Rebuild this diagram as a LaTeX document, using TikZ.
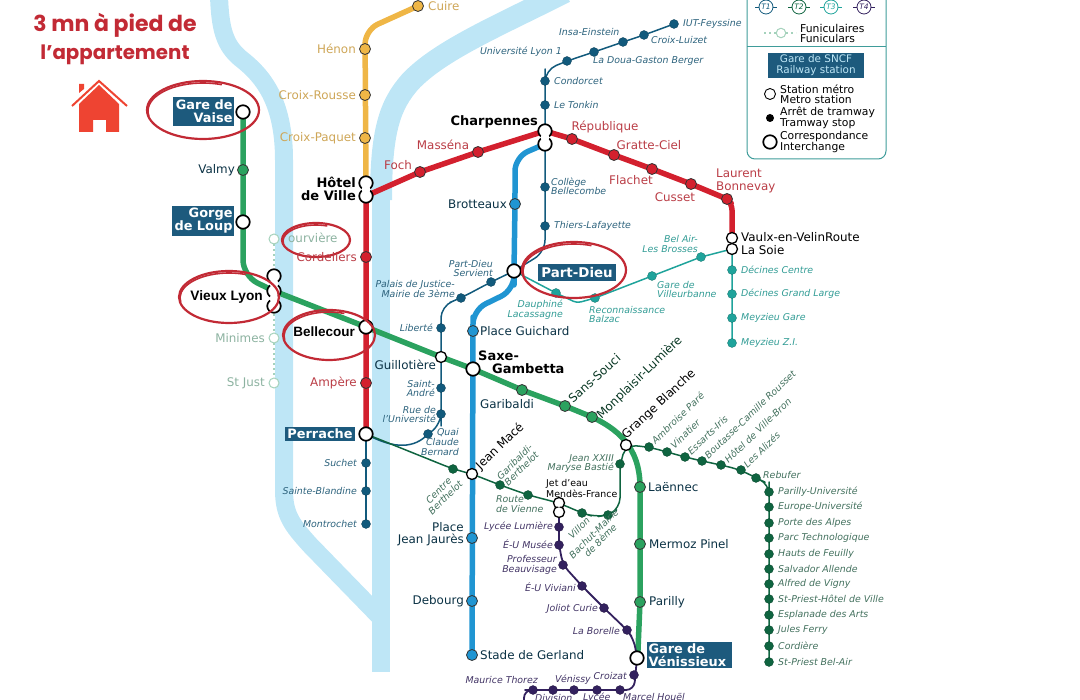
\documentclass[tikz,border=0pt]{standalone}
\usepackage{fontspec}
\setmainfont{DejaVu Sans}
\newfontfamily\headfont{Poppins}
\newfontfamily\arialfont{Liberation Sans}
\usetikzlibrary{backgrounds}

\definecolor{riverblue}{HTML}{BEE6F6}
\definecolor{lineA}{HTML}{D3202E}
\definecolor{lineB}{HTML}{2095D2}
\definecolor{lineC}{HTML}{EFB646}
\definecolor{lineD}{HTML}{2BA25F}
\definecolor{tramA}{HTML}{125A7C}
\definecolor{tramB}{HTML}{0F6440}
\definecolor{tramC}{HTML}{1FA39B}
\definecolor{tramD}{HTML}{33215E}
\definecolor{funi}{HTML}{A5D2BC}
\definecolor{circlered}{HTML}{C22A35}
\definecolor{houseorange}{HTML}{EE4432}
\definecolor{boxblue}{HTML}{1D5A7D}
\definecolor{legendteal}{HTML}{3F9C9A}

\begin{document}
\begin{tikzpicture}[
x=1pt, y=-1pt,
river/.style={draw=riverblue, line width=18pt, line join=round},
metroline/.style={line width=5.5pt, line join=round},
tramline/.style={line width=1.5pt, line join=round},
stop/.style={circle, inner sep=0pt, minimum size=9pt, draw=#1!70!black, fill=#1, line width=.3pt},
metro/.style={circle, inner sep=0pt, minimum size=11pt, draw=black!80, fill=#1, line width=.8pt},
hub/.style={circle, inner sep=0pt, minimum size=13.5pt, draw=black, fill=white, line width=1.7pt},
minihub/.style={circle, inner sep=0pt, minimum size=11pt, draw=black, fill=white, line width=1.3pt},
hubfill/.style={circle, inner sep=0pt, minimum size=9pt, fill=white},
funistop/.style={circle, inner sep=0pt, minimum size=10pt, draw=funi, fill=white, line width=1pt},
funiline/.style={funi, line width=2pt, dash pattern=on 2pt off 3pt},
lab/.style={inner sep=0pt, font=\fontsize{11.9}{12.2}\selectfont, text=#1},
lab/.default=black,
lbl/.style={lab=#1, anchor=east, align=right},
lbr/.style={lab=#1, anchor=west, align=left},
tlab/.style={inner sep=0pt, font=\fontsize{9.4}{9.6}\selectfont\itshape, text=#1},
tl/.style={tlab=#1, anchor=east, align=right},
tr/.style={tlab=#1, anchor=west, align=left},
bigname/.style={inner sep=0pt, font=\fontsize{13}{13.5}\selectfont\bfseries, text=black},
railbox/.style={fill=boxblue, text=white, inner sep=0pt, align=right, font=\fontsize{12.9}{13}\selectfont\bfseries},
scribble/.style={draw=circlered, line width=2.2pt},
legtext/.style={inner sep=0pt, anchor=west, align=left, font=\fontsize{10.8}{10}\selectfont}
]
\useasboundingbox (0,0) rectangle (1080,700);

%Nodes
\foreach \n/\x/\y in {hv/243/112, gl/243/222, bc/366/327, pr/366/434, pd/514/271, sg/473/369, gv/637/658}
    \node[hub] (\n) at (\x,\y) {};
\foreach \n/\x/\y in {gt/441/357, jm/472/474, gb/626/445}
    \node[minihub] (\n) at (\x,\y) {};
% twin interchanges
\foreach \n/\x/\y in {hvA/366/183, hvB/366/196, chA/545/131, chB/545/144, vlA/274/276, vlB/274/291, vlC/274/306}
    \node[hub] (\n) at (\x,\y) {};
\foreach \n/\x/\y in {vsA/732/238, vsB/732/249, jeA/559/503, jeB/559/512}
    \node[minihub] (\n) at (\x,\y) {};
\foreach \n/\x/\y in {fhvA/366/183, fhvB/366/196, fhvC/366/189.5, fchA/545/131, fchB/545/144, fchC/545/137.5, fvlA/274/276, fvlB/274/291, fvlC/274/306, fvlD/274/283.5, fvlE/274/298.5}
    \node[hubfill] (\n) at (\x,\y) {};
\foreach \n/\x/\y in {fvsA/732/238, fvsB/732/249, fjeA/559/503, fjeB/559/512}
    \node[hubfill, minimum size=8pt] (\n) at (\x,\y) {};

% metro stops
\foreach \n/\x/\y in {va/243/170, gi/522/390, ss/565/406, ml/592/417, la/640/487, mp/640/544, pa/640/602}
    \node[metro=lineD] (\n) at (\x,\y) {};
\foreach \n/\x/\y in {cd/366/257, am/366/383, fo/420/172, ms/478/152, re/572/139, gc/614/155, fl/652/169, cu/691/184, lb/727/199}
    \node[metro=lineA] (\n) at (\x,\y) {};
\foreach \n/\x/\y in {cui/418/6, he/365/49, cr/365/95, cp/365/138}
    \node[metro=lineC] (\n) at (\x,\y) {};
\foreach \n/\x/\y in {br/515/204, pg/473/331, jj/472/538, de/472/601, sdg/472/655}
    \node[metro=lineB] (\n) at (\x,\y) {};

% tram stops
\foreach \n/\x/\y in {iu/674/24, cl/644/35, ie/623/42, dg/594/52, ul/567/61, co/545/81, to/545/105, cb/545/187, tl/545/226, pds/491/282, pj/461/298, li/441/328, sa/441/388, ru/441/414, qc/428/434, su/366/463, sb/366/491, mo/366/524}
    \node[stop=tramA] (\n) at (\x,\y) {};
\foreach \n/\x/\y in {ce/453/469, gab/500/485, rv/528/495, vi/582/513, bm/608/515, jx/620/464, ap/649/447, vn/667/452, ei/685/457, bo/702/461, hb/721/465, az/741/470, rb/756/478, pu/769/492, eu/769/507, al/769/523, pt/769/538, hf/769/554, sl/769/569, ad/769/584, sh/769/599, ea/769/615, jf/769/630, cq/769/646, sp/769/662}
    \node[stop=tramB] (\n) at (\x,\y) {};
\foreach \n/\x/\y in {dl/556/293, rz/595/298, vb/652/276, bb/701/257, dc/732/270, dg2/732/294, mg/732/318, mz/732/343}
    \node[stop=tramC] (\n) at (\x,\y) {};
\foreach \n/\x/\y in {ll/559/527, em/559/545, bv/563/565, ev/582/586, jc/604/608, lo/627/630, cz/634/675, mh/620/690, ly/597/690, dv/574/690, vy/553/690, mt/533/690}
    \node[stop=tramD] (\n) at (\x,\y) {};

% funiculars
\foreach \n/\x/\y in {fv/274/239, mi/274/338, sj/274/383}
    \node[funistop] (\n) at (\x,\y) {};

%Lines
\begin{scope}[on background layer]
    \draw[river] (219,-5) .. controls (220,30) and (225,45) .. (240,58) .. controls (262,75) and (284,100) .. (284,160) -- (284,490) .. controls (284,515) and (292,525) .. (310,545) -- (381,618);
    \draw[river, line width=22pt] (565,-8) .. controls (500,25) and (440,50) .. (410,82) .. controls (390,105) and (381,130) .. (381,200);
    \draw[river] (381,190) -- (381,672);

    \draw[metroline, lineC, rounded corners=14pt] (cui.center) -- (365,30) -- (hvA.center);
    \draw[metroline, lineB, rounded corners=14pt] (chB.center) -- (515,157) -- (br.center) -- (pd.center) -- (514,290) -- (473,310) -- (pg.center) -- (sdg.center);
    \draw[metroline, lineA, rounded corners=6pt] (pr.center) -- (hvB.center) -- (fo.center) -- (ms.center) -- (chA.center) -- (re.center) -- (gc.center) -- (fl.center) -- (cu.center) -- (lb.center) -- (732,204) -- (vsA.center);
    \draw[metroline, lineD, rounded corners=16pt] (hv.center) -- (gl.center) -- (243,276) -- (vlB.center);
    \draw[metroline, lineD] (vlB.center) -- (bc.center) -- (gt.center) -- (sg.center) -- (gi.center) -- (ss.center) -- (ml.center) .. controls (615,428) and (640,445) .. (640,487) -- (pa.center) -- (638,650) -- (gv.center);

    \draw[tramline, tramA, rounded corners=12pt] (iu.center) -- (cl.center) -- (ie.center) -- (dg.center) -- (ul.center) -- (545,70) -- (co.center) -- (chA.center) -- (chB.center) -- (tl.center) -- (545,252) -- (pd.center);
    \draw[tramline, tramA, rounded corners=12pt] (pd.center) -- (pds.center) -- (pj.center) -- (441,306) -- (li.center) -- (ru.center) -- (441,425) -- (qc.center);
    \draw[tramline, tramA] (qc.center) .. controls (415,448) and (395,450) .. (pr.center);
    \draw[tramline, tramA] (pr.center) -- (mo.center);
    \draw[tramline, tramB, rounded corners=10pt] (pr.center) -- (ce.center) -- (jm.center) -- (gab.center) -- (rv.center) -- (jeA.center) -- (vi.center) -- (595,517) -- (bm.center) -- (620,508) -- (jx.center) -- (gb.center) -- (ap.center) -- (vn.center) -- (ei.center) -- (bo.center) -- (hb.center) -- (az.center) -- (rb.center) -- (769,484) -- (pu.center) -- (sp.center);
    \draw[tramline, tramC, rounded corners=4pt] (pd.center) -- (dl.center) -- (577,303) -- (rz.center) -- (vb.center) -- (bb.center) -- (vsB.center) -- (mz.center);
    \draw[tramline, tramD, line width=1.8pt, rounded corners=8pt] (jeB.center) -- (em.center) -- (bv.center) -- (ev.center) -- (jc.center) -- (lo.center) -- (634,640) -- (gv.center);
    \draw[tramline, tramD, line width=1.8pt, rounded corners=8pt] (gv.center) -- (634,690) -- (mt.center) -- (524,690) -- (524,705);
    \draw[funiline] (fv) -- (vlA);
    \draw[funiline] (vlC) -- (mi);
    \draw[funiline] (mi) -- (sj);
\end{scope}

% red hand drawn rings, doubled at their start on the upper left
\foreach \cx/\cy/\rx/\ry in {203/110/56/29, 229/297/50/26, 329/335/46/25, 574/270/52/28, 316/240/34/17}{
    \draw[scribble] (\cx,\cy) ellipse [x radius=\rx, y radius=\ry];
    \draw[scribble, line width=1.6pt] (\cx,\cy+1) ++(170:\rx-1 and \ry-1) arc [start angle=170, end angle=290, x radius=\rx-1, y radius=\ry-1];
}

% heading and house
\node[inner sep=0pt, text=circlered, font=\fontsize{22}{22}\headfont\bfseries] (headA) at (115,25) {3 mn à pied de};
\node[inner sep=0pt, text=circlered, font=\fontsize{19.8}{20}\headfont\bfseries] (headB) at (115,54.5) {l’appartement};
\fill[houseorange] (79,104) -- (99,85) -- (119,104) -- (119,132) -- (106,132) -- (106,120) -- (93,120) -- (93,132) -- (79,132) -- cycle;
\draw[houseorange, line width=2pt] (72,106) -- (99,81) -- (127,106);
\fill[houseorange] (79,84) -- (84,84) -- (84,89) -- (79,93) -- cycle;

% black and boxed names
\node[railbox, minimum width=61pt, minimum height=29pt, text width=58pt] (boxVaise) at (203.5,111.5) {Gare de\\Vaise};
\node[railbox, minimum width=62pt, minimum height=30pt, text width=59pt] (boxLoup) at (203,221) {Gorge\\de Loup};
\node[railbox, minimum width=70pt, minimum height=14pt] (boxPerrache) at (320,434) {Perrache};
\node[railbox, minimum width=78pt, minimum height=17pt, font=\fontsize{13.4}{14}\selectfont\bfseries] (boxDieu) at (577,272.5) {Part-Dieu};
\node[railbox, minimum width=85pt, minimum height=26pt, align=left, text width=82pt] (boxVenis) at (689.5,655) {Gare de\\Vénissieux};
\node[bigname, anchor=east, align=right] (nameHotel) at (356,189) {Hôtel\\de Ville};
\node[bigname, anchor=east] (nameCharp) at (538,122) {Charpennes};
\node[bigname, anchor=west, align=left] (nameSaxe) at (478,362.5) {Saxe-\\\hspace*{14pt}Gambetta};
\node[inner sep=0pt, anchor=east, font=\fontsize{13.7}{14}\arialfont\bfseries] (nameVieux) at (263,297) {Vieux Lyon};
\node[inner sep=0pt, anchor=east, font=\fontsize{13.5}{14}\arialfont\bfseries] (nameBelle) at (355,332) {Bellecour};
\node[lab, anchor=west, align=left] (nameVaulx) at (741,243.5) {Vaulx-en-VelinRoute\\La Soie};
\node[lab, anchor=west, rotate=43] (nameGrange) at (624,437) {Grange Blanche};
\node[lab, anchor=west, rotate=44] (nameMace) at (478,468) {Jean Macé};
\node[tlab=black, anchor=west, align=left, font=\fontsize{9.4}{11}\selectfont] (nameJet) at (546,488.5) {Jet d'eau\\Mendès-France};

% metro labels
\foreach \n/\x/\y/\txt in {Val/235/170/Valmy, Bro/507/204/Brotteaux, Gui/436/365/Guillotière, Jau/464/534/{Place\\Jean Jaurès}, Deb/464/601/Debourg}
    \node[lbl=black!45!tramA] (lab\n) at (\x,\y) {\txt};
\foreach \n/\x/\y/\txt in {Gch/480/331/Place Guichard, Ger/480/655/Stade de Gerland, Lae/648/487/Laënnec, Mer/649/544/Mermoz Pinel, Par/649/602/Parilly, Gar/480/404/Garibaldi}
    \node[lbr=black!45!tramA] (lab\n) at (\x,\y) {\txt};
\foreach \n/\x/\y/\ang/\txt in {Sou/570/400/42/Sans-Souci, Mon/599/417/44/Monplaisir-Lumière}
    \node[lab=black!45!tramB, anchor=west, rotate=\ang] (lab\n) at (\x,\y) {\txt};
\foreach \n/\x/\y/\txt in {Hen/356/49/Hénon, Rou/356/95/Croix-Rousse, Paq/356/138/Croix-Paquet}
    \node[lbl=lineC!70!gray] (lab\n) at (\x,\y) {\txt};
\node[lbr=lineC!70!gray] (labCui) at (428,6) {Cuire};
\foreach \n/\x/\y/\txt in {Foc/398/165/Foch, Mas/443/145/Masséna, Rep/605/127/République, Gra/649/145/Gratte-Ciel, Fla/631/180/Flachet, Cus/675/197/Cusset}
    \node[lab=lineA!70!gray] (lab\n) at (\x,\y) {\txt};
\node[lbr=lineA!70!gray] (labLau) at (716,181) {Laurent\\Bonnevay};
\foreach \n/\x/\y/\txt in {Cor/357/257/Cordeliers, Amp/357/383/Ampère}
    \node[lbl=lineA!70!gray] (lab\n) at (\x,\y) {\txt};

% funicular labels
\node[lbr=funi!85!black] (labFou) at (288,238) {ourvière};
\foreach \n/\x/\y/\txt in {Min/265/338/Minimes, Jus/265/383/St Just}
    \node[lbl=funi!85!black] (lab\n) at (\x,\y) {\txt};

% tram A labels
\foreach \n/\x/\y/\txt in {Uni/562/52/Université Lyon 1, Ser/493/268.5/{Part-Dieu\\Servient}, Pal/455/289/{Palais de Justice-\\Mairie de 3ème}, Lib/433/328/Liberté, And/435/388.5/{Saint-\\André}, Rue/436/414.5/{Rue de\\l'Université}, Qua/459/442/{Quai\\Claude\\Bernard}, Suc/357/463/Suchet, Bla/357/491/Sainte-Blandine, Mot/357/524/Montrochet}
    \node[tl=tramA!75!gray] (lab\n) at (\x,\y) {\txt};
\foreach \n/\x/\y/\txt in {Ins/559/32/Insa-Einstein, Dou/593/61/La Doua-Gaston Berger, Lui/651/40/Croix-Luizet, Fey/683/24/IUT-Feyssine, Con/554/81/Condorcet, Ton/554/105/Le Tonkin, Col/551/186.5/{Collège\\Bellecombe}, Thi/554/226/Thiers-Lafayette}
    \node[tr=tramA!75!gray] (lab\n) at (\x,\y) {\txt};

% tram C labels
\foreach \n/\x/\y/\txt in {Dau/563/309.5/{Dauphiné\\Lacassagne}, Bel/698/244/{Bel Air-\\Les Brosses}}
    \node[tl=tramC!80!gray] (lab\n) at (\x,\y) {\txt};
\foreach \n/\x/\y/\txt in {Rec/589/314.5/{Reconnaissance\\Balzac}, Vil/657/289.5/{Gare de\\Villeurbanne}, Dcc/741/270/Décines Centre, Dcg/741/294/Décines Grand Large, Mga/741/318/Meyzieu Gare, Mzi/741/343/Meyzieu Z.I.}
    \node[tr=tramC!80!gray] (lab\n) at (\x,\y) {\txt};

% tram B labels
\foreach \n/\x/\y/\txt in {Jxx/614/463.5/{Jean XXIII\\Maryse Bastié}}
    \node[tl=tramB!55!gray] (lab\n) at (\x,\y) {\txt};
\foreach \n/\x/\y/\txt in {Rou/496/504/{Route\\de Vienne}, Reb/763/475/Rebufer, Pun/778/492/Parilly-Université, Eun/778/507/Europe-Université, Alp/778/523/Porte des Alpes, Prc/778/538/Parc Technologique, Hau/778/554/Hauts de Feuilly, Sal/778/569/Salvador Allende, Alf/778/584/Alfred de Vigny, Sho/778/599/St-Priest-Hôtel de Ville, Esp/778/615/Esplanade des Arts, Jul/778/630/Jules Ferry, Crd/778/646/Cordière, Spb/778/662/St-Priest Bel-Air}
    \node[tr=tramB!55!gray] (lab\n) at (\x,\y) {\txt};
\foreach \n/\x/\y/\txt in {Amb/653/442/Ambroise Paré, Vin/672/447/Vinatier, Ess/689/453/Essarts-Iris, Bou/706/457/Boutasse-Camille Rousset, Hot/726/461/Hôtel de Ville-Bron, Liz/745/466/Les Alizés}
    \node[tr=tramB!55!gray, rotate=44] (lab\n) at (\x,\y) {\txt};
\foreach \n/\x/\y/\txt in {Gab/518/465/{Garibaldi-\\Berthelot}, Cen/442/494/{Centre\\Berthelot}, Vlo/579/528/Villon, Bac/597/537/{Bachut-Mairie\\de 8ème}}
    \node[tlab=tramB!55!gray, rotate=45, align=center] (lab\n) at (\x,\y) {\txt};

% tram D labels
\foreach \n/\x/\y/\txt in {Lyc/553/527/Lycée Lumière, Mus/553/544/É-U Musée, Pro/557/565/{Professeur\\Beauvisage}, Viv/576/587/É-U Viviani, Jol/598/609/Joliot Curie, Bor/620/631/La Borelle, Cro/627/676/Croizat, Tho/538/680/Maurice Thorez, Ven/591/680/Vénissy}
    \node[tl=tramD!80!gray] (lab\n) at (\x,\y) {\txt};
\foreach \n/\x/\y/\txt in {Div/535/698/Division, Lye/583/698/Lycée, Hou/623/697/Marcel Houël}
    \node[tr=tramD!80!gray] (lab\n) at (\x,\y) {\txt};

% legend
\draw[legendteal, line width=1pt, rounded corners=8pt] (747,-10) -- (747,159) -- (886,159) -- (886,-10);
\draw[legendteal, line width=1pt] (747,47) -- (886,47);
\foreach \n/\x/\c in {T1/766/tramA, T2/799/tramB, T3/831/tramC, T4/864/tramD}{
    \node[circle, inner sep=0pt, minimum size=14pt, draw=\c, line width=.8pt, text=\c, font=\fontsize{7.5}{8}\selectfont\itshape] (leg\n) at (\x,7) {\n};
    \draw[\c, line width=.8pt] (leg\n.west) -- ++(-4,0);
    \draw[\c, line width=.8pt] (leg\n.east) -- ++(4,0);
}
\node[funistop, minimum size=9.5pt] (legFuni) at (781,33) {};
\draw[funiline, line width=1.5pt] (legFuni.west) -- ++(-13,0);
\draw[funiline, line width=1.5pt] (legFuni.east) -- ++(10,0);
\node[legtext] (legFuniText) at (800,33) {Funiculaires\\Funiculars};
\node[fill=boxblue, text=riverblue, inner sep=0pt, minimum width=96pt, minimum height=25pt, align=center, font=\fontsize{10.4}{10.8}\selectfont] (legRail) at (816,65.5) {Gare de SNCF\\Railway station};
\node[minihub, line width=.9pt] (legStation) at (770,94) {};
\node[legtext] (legStationText) at (780,94) {Station métro\\Metro station};
\node[circle, fill=black, inner sep=0pt, minimum size=8pt] (legStop) at (770,118) {};
\node[legtext] (legStopText) at (780,117.5) {Arrêt de tramway\\Tramway stop};
\node[hub] (legHub) at (770,142) {};
\node[legtext] (legHubText) at (780,142) {Correspondance\\Interchange};
\end{tikzpicture}
\end{document}
